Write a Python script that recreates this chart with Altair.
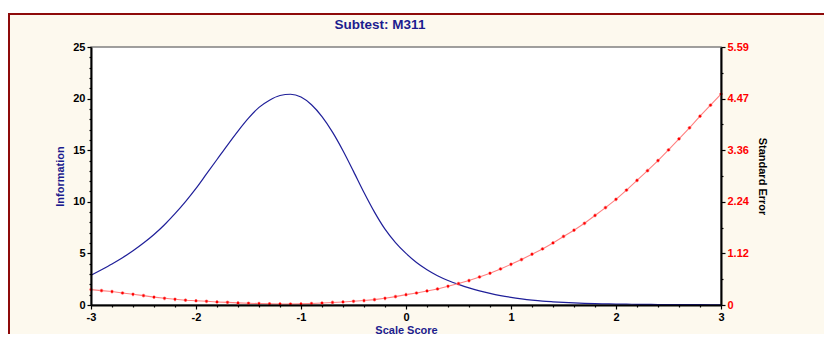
import altair as alt
import pandas as pd

# ---- data ----
theta = [-3.0, -2.9, -2.8, -2.7, -2.6, -2.5, -2.4, -2.3, -2.2, -2.1,
         -2.0, -1.9, -1.8, -1.7, -1.6, -1.5, -1.4, -1.3, -1.2, -1.1,
         -1.0, -0.9, -0.8, -0.7, -0.6, -0.5, -0.4, -0.3, -0.2, -0.1,
         0.0, 0.1, 0.2, 0.3, 0.4, 0.5, 0.6, 0.7, 0.8, 0.9,
         1.0, 1.1, 1.2, 1.3, 1.4, 1.5, 1.6, 1.7, 1.8, 1.9,
         2.0, 2.1, 2.2, 2.3, 2.4, 2.5, 2.6, 2.7, 2.8, 2.9, 3.0]

information = [2.88, 3.42, 3.98, 4.58, 5.25, 6.0, 6.83, 7.78, 8.85, 10.02,
               11.3, 12.7, 14.1, 15.5, 16.85, 18.1, 19.15, 19.85, 20.3, 20.42,
               20.15, 19.4, 18.25, 16.75, 14.95, 12.95, 10.9, 9.0, 7.35, 6.05,
               5.0, 4.12, 3.42, 2.84, 2.38, 2.0, 1.66, 1.37, 1.12, 0.91,
               0.74, 0.6, 0.48, 0.38, 0.31, 0.25, 0.2, 0.16, 0.13, 0.11,
               0.09, 0.08, 0.07, 0.06, 0.05, 0.045, 0.04, 0.035, 0.03, 0.025, 0.02]

std_error = [0.334, 0.312, 0.291, 0.260, 0.232, 0.204, 0.170, 0.145, 0.124, 0.104,
             0.092, 0.080, 0.066, 0.057, 0.045, 0.038, 0.031, 0.027, 0.023, 0.021,
             0.024, 0.032, 0.043, 0.055, 0.066, 0.080, 0.096, 0.117, 0.145, 0.182,
             0.224, 0.260, 0.304, 0.347, 0.406, 0.464, 0.529, 0.607, 0.688, 0.781,
             0.882, 0.985, 1.100, 1.215, 1.345, 1.486, 1.620, 1.770, 1.940, 2.110,
             2.290, 2.490, 2.700, 2.910, 3.130, 3.360, 3.600, 3.840, 4.090, 4.330, 4.570]

title_text = "Subtest: M311"
x_title = "Scale Score"
y_left_title = "Information"
y_right_title = "Standard Error"

x_major = [-3, -2, -1, 0, 1, 2, 3]
info_major = [0, 5, 10, 15, 20, 25]
se_major = [0, 1.118, 2.236, 3.354, 4.472, 5.59]
se_labels = ["0", "1.12", "2.24", "3.36", "4.47", "5.59"]

df = pd.DataFrame({"theta": theta, "info": information, "se": std_error})

FONT = "Liberation Sans"
NAVY = "#1C1C8E"
W, H = 630, 258

# axis tick positions (major + minor)
x_vals = [round(-3 + 0.2 * i, 1) for i in range(31)]
info_vals = list(range(0, 26))
se_vals = [round(5.59 * i / 10, 4) for i in range(11)]

se_label_expr = ""
for v, lab in zip(se_major, se_labels):
    se_label_expr += f"abs(datum.value - {v}) < 0.01 ? '{lab}' : "
se_label_expr += "''"

common = dict(
    labelFont=FONT, labelFontSize=11, labelFontWeight="bold",
    domainColor="black", domainWidth=2, tickColor="black", tickWidth=1.2,
    labelFlush=False, labelOverlap=False, grid=False, zindex=1,
    titleFont=FONT, titleFontSize=11, titleFontWeight="bold",
)

x_axis = alt.Axis(
    values=x_vals,
    labelExpr="abs(datum.value - round(datum.value)) < 0.01 ? '' + round(datum.value) : ''",
    tickSize={"condition": {"test": "abs(datum.value - round(datum.value)) < 0.01", "value": 4}, "value": 2},
    labelColor="black", labelPadding=2, title=x_title, titleColor=NAVY, titlePadding=2,
    **common,
)

y_left_axis = alt.Axis(
    orient="left", values=info_vals,
    labelExpr="datum.value % 5 == 0 ? datum.label : ''",
    tickSize={"condition": {"test": "datum.value % 5 == 0", "value": 4}, "value": 2},
    labelColor="black", labelPadding=2, title=y_left_title, titleColor=NAVY, titlePadding=7,
    **common,
)

y_right_axis = alt.Axis(
    orient="right", values=se_vals,
    labelExpr=se_label_expr,
    tickSize={"condition": {"test": "round(datum.value / 0.559) % 2 == 0", "value": 4}, "value": 2},
    labelColor="#FF0000", labelPadding=2, title=y_right_title, titleColor="black", titlePadding=8,
    **common,
)

x_enc = alt.X("theta:Q", scale=alt.Scale(domain=[-3, 3], nice=False), axis=x_axis)

one = alt.Data(values=[{"t": title_text}])

frame = alt.Chart(one).mark_rect(fill="#FDF9EE", stroke="#8E0A0A", strokeWidth=2).encode(
    x=alt.value(-82), x2=alt.value(900), y=alt.value(-33), y2=alt.value(400)
)

plot_bg = alt.Chart(one).mark_rect(fill="white", stroke="#808080", strokeWidth=1.5).encode(
    x=alt.value(0), x2=alt.value(W), y=alt.value(0), y2=alt.value(H)
)

info_line = alt.Chart(df).mark_line(color="#1F1F99", strokeWidth=1.2, interpolate="monotone").encode(
    x=x_enc,
    y=alt.Y("info:Q", scale=alt.Scale(domain=[0, 25], nice=False), axis=y_left_axis),
)

se_y = alt.Y("se:Q", scale=alt.Scale(domain=[0, 5.59], nice=False), axis=y_right_axis)

se_line = alt.Chart(df).mark_line(color="#FF8080", strokeWidth=1.1).encode(x=x_enc, y=se_y)
se_cross = alt.Chart(df).mark_point(shape="cross", filled=True, size=14, color="#FF9090", opacity=1).encode(x=x_enc, y=se_y)
se_pts = alt.Chart(df).mark_point(shape="square", filled=True, size=5, color="#FF0000", opacity=1).encode(x=x_enc, y=se_y)

se_layer = alt.layer(se_line, se_cross, se_pts)

title = alt.Chart(one).mark_text(
    font=FONT, fontSize=13.5, fontWeight="bold", color=NAVY, align="center", baseline="middle"
).encode(x=alt.value(289), y=alt.value(-22), text="t:N")

chart = alt.layer(frame, plot_bg, info_line, se_layer, title).resolve_scale(
    y="independent"
).properties(
    width=W, height=H,
    padding={"left": 83, "top": 39, "right": 103, "bottom": 29},
    autosize=alt.AutoSizeParams(type="none"),
    background="white",
).configure_view(stroke=None)

chart.save("out.html", embed_options={"renderer": "svg", "actions": False})
